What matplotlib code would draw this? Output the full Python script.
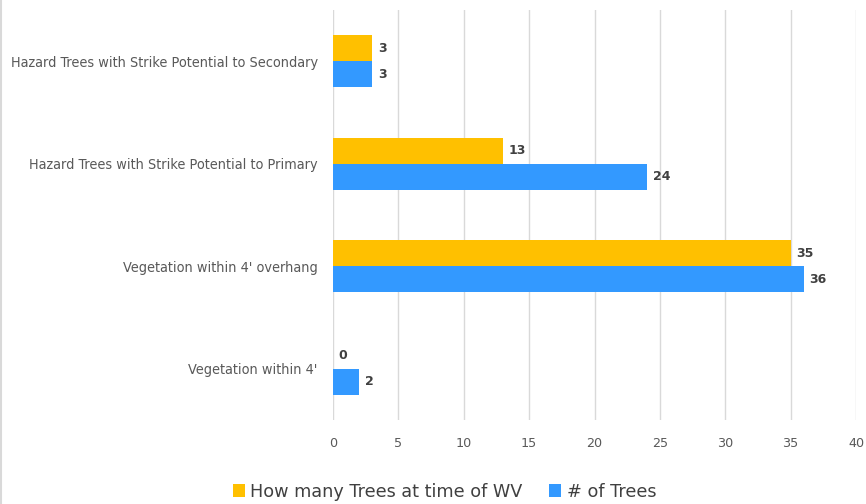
import matplotlib
matplotlib.use("Agg")
import matplotlib.pyplot as plt
import numpy as np
from matplotlib.lines import Line2D

categories = ["Vegetation within 4'", "Vegetation within 4' overhang",
              "Hazard Trees with Strike Potential to Primary",
              "Hazard Trees with Strike Potential to Secondary"]
wv_values = [0, 35, 13, 3]
tree_values = [2, 36, 24, 3]
series_names = ["How many Trees at time of WV", "# of Trees"]
xticks = [0, 5, 10, 15, 20, 25, 30, 35, 40]

plt.rcParams['font.family'] = ['DejaVu Sans']

fig = plt.figure(figsize=(8.66, 5.04), dpi=100)
ax = fig.add_axes([0.3845, 0.1667, 0.604, 0.8135])

y = np.arange(len(categories))
h = 0.255
gold = '#FFC000'
blue = '#3399FF'
ax.barh(y + h/2, wv_values, height=h, color=gold, label=series_names[0], zorder=3)
ax.barh(y - h/2, tree_values, height=h, color=blue, label=series_names[1], zorder=3)

for yi, v in zip(y, wv_values):
    ax.text(v + 0.45, yi + h/2, str(v), va='center', ha='left', fontsize=9, fontweight='bold', color='#404040')
for yi, v in zip(y, tree_values):
    ax.text(v + 0.45, yi - h/2, str(v), va='center', ha='left', fontsize=9, fontweight='bold', color='#404040')

ax.set_xlim(0, 40)
ax.set_ylim(-0.5, 3.5)
ax.set_xticks(xticks)
ax.set_yticks(y)
ax.set_yticklabels(categories, fontstretch='condensed', fontsize=10.4)
ax.tick_params(axis='both', length=0, labelsize=9.2, colors='#595959')
ax.tick_params(axis='y', pad=11, labelsize=10.4)
ax.tick_params(axis='x', pad=12)
ax.grid(axis='x', color='#D9D9D9', linewidth=1, zorder=0)
for s in ax.spines.values():
    s.set_visible(False)

fig.legend(loc='lower center', bbox_to_anchor=(0.513, -0.025), ncol=2, frameon=False,
           fontsize=12.7, handlelength=0.7, handleheight=0.7, handletextpad=0.3,
           columnspacing=1.5, labelcolor='#404040')

fig.add_artist(Line2D([0.001, 0.001], [0, 1], transform=fig.transFigure, color='#D9D9D9', linewidth=1.5))

fig.savefig('out.png', dpi=100)
